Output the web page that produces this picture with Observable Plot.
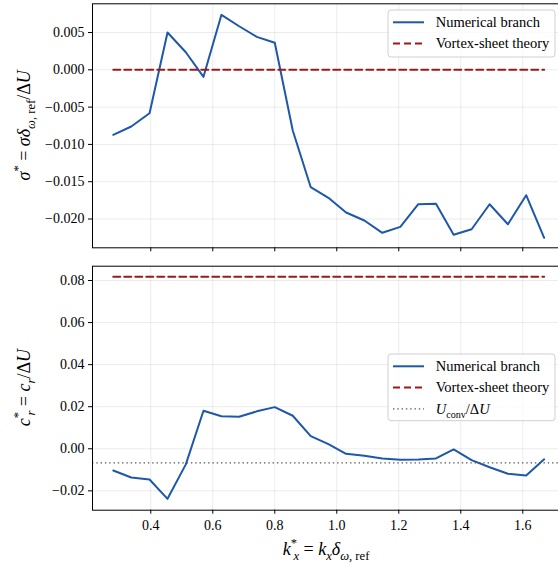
<!DOCTYPE html>
<html>
<head>
<meta charset="utf-8">
<script src="https://cdn.jsdelivr.net/npm/d3@7"></script>
<script src="https://cdn.jsdelivr.net/npm/@observablehq/plot@0.6"></script>
<style>
  html, body { margin: 0; padding: 0; background: white; }
  #chart svg { display: block; }
  #chart svg, #chart svg text, #chart svg tspan { font-family: "Liberation Serif", "Times New Roman", serif !important; }
</style>
</head>
<body>
<div id="chart"></div>
<script>
// ---- data ----
const k = [0.279, 0.337, 0.396, 0.454, 0.513, 0.570, 0.628, 0.685, 0.742, 0.800, 0.858, 0.916, 0.973,
           1.030, 1.089, 1.147, 1.205, 1.263, 1.320, 1.377, 1.435, 1.493, 1.552, 1.611, 1.669];
const sigma = [-0.00871, -0.00760, -0.00582, 0.00500, 0.00236, -0.00094, 0.00737, 0.00584, 0.00442, 0.00362,
               -0.00814, -0.01574, -0.01716, -0.01913, -0.02020, -0.02185, -0.02105, -0.01802, -0.01796,
               -0.02212, -0.02137, -0.01802, -0.02070, -0.01681, -0.02252];
const cr = [-0.01033, -0.01367, -0.01462, -0.02380, -0.00740, 0.01810, 0.01550, 0.01520, 0.01780, 0.01980,
            0.01570, 0.00600, 0.00220, -0.00240, -0.00330, -0.00460, -0.00520, -0.00510, -0.00460,
            -0.00030, -0.00540, -0.00880, -0.01190, -0.01270, -0.00500];
const sigmaVortexSheet = 0;
const crVortexSheet = 0.0818;
const uConv = -0.0067;
const xTicks = [0.4, 0.6, 0.8, 1.0, 1.2, 1.4, 1.6];
const sigmaTicks = [0.005, 0.000, -0.005, -0.010, -0.015, -0.020];
const crTicks = [0.08, 0.06, 0.04, 0.02, 0.00, -0.02];
const legendLabels = ["Numerical branch", "Vortex-sheet theory"];

const rows = k.map((kk, i) => ({k: kk, sigma: sigma[i], cr: cr[i]}));

const BLUE = "#1f58a8", RED = "#981b1e", GRAY = "#555";
const FONT = "Liberation Serif";
const gridStyle = {stroke: "#000", strokeOpacity: 0.1, strokeWidth: 0.8};
const xDomain = [0.212, 1.743];
const axisFont = {fontFamily: FONT, fontSize: 14, fontVariant: "normal"};

function mathText(parent, parts, size) {
  const text = parent.append("text").attr("font-size", size).attr("font-family", FONT).attr("fill", "#000");
  let shift = 0;
  for (const p of parts) {
    const target = p.sup ? -0.42 * size : p.sub ? 0.28 * size : 0;
    const ts = text.append("tspan").text(p.t).attr("dy", (target - shift).toFixed(2));
    if (p.dx) ts.attr("dx", p.dx);
    if (p.i) ts.attr("font-style", "italic");
    if (p.sup || p.sub) ts.attr("font-size", (size * 0.7).toFixed(1));
    shift = target;
  }
  return text;
}

function legend(svg, x, y, w, h, entries) {
  const g = svg.append("g");
  g.append("rect").attr("x", x).attr("y", y).attr("width", w).attr("height", h)
    .attr("rx", 3).attr("fill", "white").attr("fill-opacity", 0.8)
    .attr("stroke", "#d0d0d0").attr("stroke-width", 1);
  entries.forEach((e, i) => {
    const cy = y + 12.3 + i * 21.3;
    g.append("line").attr("x1", x + 5).attr("x2", x + 36).attr("y1", cy).attr("y2", cy)
      .attr("stroke", e.color).attr("stroke-width", e.width).attr("stroke-dasharray", e.dash || null);
    const t = mathText(g, e.parts, 14.5);
    t.attr("text-anchor", "start").attr("x", x + 47.7).attr("y", cy + 4.8);
  });
}

// ---- top panel: growth rate ----
const topPlot = Plot.plot({
  width: 558, height: 255,
  marginLeft: 92, marginRight: -8.6, marginTop: 3.3, marginBottom: 7.7,
  x: {domain: xDomain},
  y: {domain: [-0.02386, 0.00885]},
  style: {fontFamily: FONT, fontSize: "14px", background: "white", overflow: "hidden"},
  marks: [
    Plot.gridX(xTicks, gridStyle),
    Plot.gridY(sigmaTicks, gridStyle),
    Plot.line(rows, {x: "k", y: "sigma", stroke: BLUE, strokeWidth: 2}),
    Plot.line(rows, {x: "k", y: () => sigmaVortexSheet, stroke: RED, strokeWidth: 2, strokeDasharray: "7,4"}),
    Plot.frame({stroke: "#000", strokeWidth: 1}),
    Plot.axisX(xTicks, {tickSize: 4, tickFormat: () => "", label: null}),
    Plot.axisY(sigmaTicks, {tickSize: 4, tickPadding: 4, tickFormat: d3.format(".3f"), label: null, ...axisFont})
  ]
});

// ---- bottom panel: phase speed ----
const bottomPlot = Plot.plot({
  width: 558, height: 312,
  marginLeft: 92, marginRight: -8.6, marginTop: 10.7, marginBottom: 57.3,
  x: {domain: xDomain},
  y: {domain: [-0.0292, 0.0868]},
  style: {fontFamily: FONT, fontSize: "14px", background: "white", overflow: "hidden"},
  marks: [
    Plot.gridX(xTicks, gridStyle),
    Plot.gridY(crTicks, gridStyle),
    Plot.line(rows, {x: "k", y: "cr", stroke: BLUE, strokeWidth: 2}),
    Plot.line(rows, {x: "k", y: () => crVortexSheet, stroke: RED, strokeWidth: 2, strokeDasharray: "7,4"}),
    Plot.ruleY([uConv], {stroke: GRAY, strokeWidth: 1.4, strokeDasharray: "1.4,2.9"}),
    Plot.frame({stroke: "#000", strokeWidth: 1}),
    Plot.axisX(xTicks, {tickSize: 4, tickPadding: 6, tickFormat: d3.format(".1f"), label: null, ...axisFont}),
    Plot.axisY(crTicks, {tickSize: 4, tickPadding: 4, tickFormat: d3.format(".2f"), label: null, ...axisFont})
  ]
});

const chart = document.getElementById("chart");
chart.append(topPlot, bottomPlot);

// ---- labels ----
const sTop = d3.select(topPlot);
mathText(sTop, [
  {t: "σ", i: true}, {t: "*", sup: true}, {t: " = "}, {t: "σδ", i: true},
  {t: "ω", sub: true, i: true}, {t: ", ref", sub: true}, {t: "/Δ"}, {t: "U", i: true}
], 18).attr("text-anchor", "middle").attr("transform", "translate(30,125.3) rotate(-90)");

const sBot = d3.select(bottomPlot);
mathText(sBot, [
  {t: "c", i: true}, {t: "*", sup: true}, {t: "r", sub: true, i: true, dx: -3.5}, {t: " = "}, {t: "c", i: true},
  {t: "r", sub: true, i: true}, {t: "/Δ"}, {t: "U", i: true}
], 18).attr("text-anchor", "middle").attr("transform", "translate(30,132.7) rotate(-90)");

mathText(sBot, [
  {t: "k", i: true}, {t: "*", sup: true}, {t: "x", sub: true, i: true, dx: -3.5}, {t: " = "}, {t: "k", i: true},
  {t: "x", sub: true, i: true}, {t: "δ", i: true}, {t: "ω", sub: true, i: true}, {t: ", ref", sub: true}
], 18).attr("text-anchor", "middle").attr("x", 326).attr("y", 300);

// ---- legends ----
legend(sTop, 388, 10, 167, 47, [
  {color: BLUE, width: 2, parts: [{t: legendLabels[0]}]},
  {color: RED, width: 2, dash: "7,4", parts: [{t: legendLabels[1]}]}
]);
legend(sBot, 388, 99, 167, 66.7, [
  {color: BLUE, width: 2, parts: [{t: legendLabels[0]}]},
  {color: RED, width: 2, dash: "7,4", parts: [{t: legendLabels[1]}]},
  {color: GRAY, width: 1.4, dash: "1.4,2.9", parts: [{t: "U", i: true}, {t: "conv", sub: true}, {t: "/Δ"}, {t: "U", i: true}]}
]);

d3.selectAll("#chart svg text").attr("font-family", FONT).style("font-family", FONT);
</script>
</body>
</html>
